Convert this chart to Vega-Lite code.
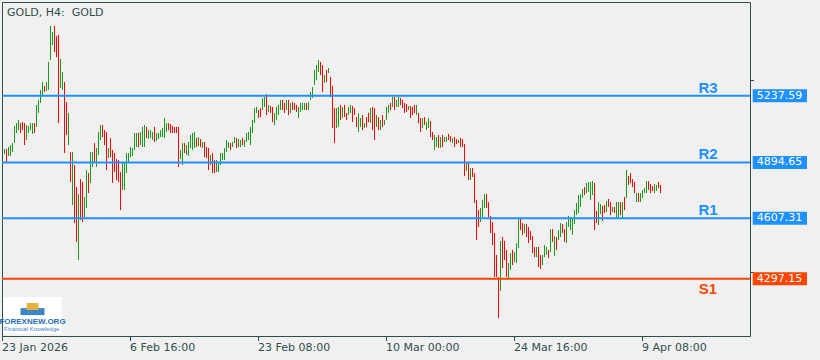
{
"$schema": "https://vega.github.io/schema/vega-lite/v6.json",
"width": 748, "height": 334,
"autosize": {"type": "none"},
"padding": {"left": 2, "top": 2, "right": 70, "bottom": 24},
"background": "#f0f0f0",
"config": {"view": {"stroke": "#2f4f4f", "strokeWidth": 1, "fill": "#f0f0f0"}},
"datasets": {
"bars": [
{"i":1,"h":4964,"l":4938,"d":"u"},{"i":2,"h":4964,"l":4897,"d":"d"},{"i":3,"h":4974,"l":4928,"d":"u"},{"i":4,"h":4984,"l":4928,"d":"u"},{"i":5,"h":4994,"l":4948,"d":"u"},
{"i":6,"h":5082,"l":4994,"d":"u"},{"i":7,"h":5097,"l":5046,"d":"u"},{"i":8,"h":5113,"l":5061,"d":"u"},{"i":9,"h":5097,"l":5046,"d":"d"},{"i":10,"h":5102,"l":5061,"d":"d"},
{"i":11,"h":5097,"l":4984,"d":"d"},{"i":12,"h":5087,"l":5010,"d":"u"},{"i":13,"h":5082,"l":5046,"d":"u"},{"i":14,"h":5097,"l":5061,"d":"u"},{"i":15,"h":5097,"l":5041,"d":"u"},
{"i":16,"h":5097,"l":5046,"d":"d"},{"i":17,"h":5190,"l":5077,"d":"u"},{"i":18,"h":5216,"l":5149,"d":"u"},{"i":19,"h":5267,"l":5200,"d":"u"},{"i":20,"h":5308,"l":5241,"d":"u"},
{"i":21,"h":5287,"l":5257,"d":"d"},{"i":22,"h":5308,"l":5262,"d":"u"},{"i":23,"h":5411,"l":5267,"d":"u"},{"i":24,"h":5596,"l":5421,"d":"u"},{"i":25,"h":5565,"l":5498,"d":"u"},
{"i":26,"h":5596,"l":5462,"d":"d"},{"i":27,"h":5544,"l":5436,"d":"d"},{"i":28,"h":5550,"l":5097,"d":"d"},{"i":29,"h":5426,"l":5277,"d":"u"},{"i":30,"h":5359,"l":5267,"d":"u"},
{"i":31,"h":5308,"l":4943,"d":"d"},{"i":32,"h":5205,"l":5036,"d":"d"},{"i":33,"h":5149,"l":4984,"d":"u"},{"i":34,"h":4948,"l":4794,"d":"d"},{"i":35,"h":4948,"l":4676,"d":"u"},
{"i":36,"h":4881,"l":4583,"d":"d"},{"i":37,"h":4768,"l":4486,"d":"d"},{"i":38,"h":4732,"l":4393,"d":"u"},{"i":39,"h":4809,"l":4599,"d":"d"},{"i":40,"h":4794,"l":4588,"d":"d"},
{"i":41,"h":4717,"l":4609,"d":"u"},{"i":42,"h":4856,"l":4660,"d":"u"},{"i":43,"h":4840,"l":4737,"d":"d"},{"i":44,"h":4948,"l":4789,"d":"u"},{"i":45,"h":4948,"l":4871,"d":"u"},
{"i":46,"h":4994,"l":4897,"d":"d"},{"i":47,"h":4969,"l":4871,"d":"u"},{"i":48,"h":5051,"l":4933,"d":"u"},{"i":49,"h":5087,"l":5010,"d":"u"},{"i":50,"h":5087,"l":5025,"d":"d"},
{"i":51,"h":5061,"l":4984,"d":"d"},{"i":52,"h":5051,"l":4856,"d":"d"},{"i":53,"h":4969,"l":4917,"d":"u"},{"i":54,"h":5020,"l":4922,"d":"d"},{"i":55,"h":4958,"l":4789,"d":"d"},
{"i":56,"h":4943,"l":4845,"d":"d"},{"i":57,"h":4912,"l":4804,"d":"d"},{"i":58,"h":4907,"l":4794,"d":"d"},{"i":59,"h":4845,"l":4650,"d":"d"},{"i":60,"h":4892,"l":4753,"d":"u"},
{"i":61,"h":4897,"l":4753,"d":"u"},{"i":62,"h":4943,"l":4840,"d":"u"},{"i":63,"h":4943,"l":4892,"d":"u"},{"i":64,"h":4974,"l":4922,"d":"u"},{"i":65,"h":4969,"l":4928,"d":"u"},
{"i":66,"h":5046,"l":4958,"d":"u"},{"i":67,"h":5046,"l":4974,"d":"u"},{"i":68,"h":5046,"l":4974,"d":"d"},{"i":69,"h":5051,"l":4984,"d":"u"},{"i":70,"h":5077,"l":4974,"d":"u"},
{"i":71,"h":5087,"l":4974,"d":"u"},{"i":72,"h":5077,"l":5020,"d":"d"},{"i":73,"h":5061,"l":5015,"d":"u"},{"i":74,"h":5061,"l":5020,"d":"u"},{"i":75,"h":5051,"l":5010,"d":"u"},
{"i":76,"h":5077,"l":5000,"d":"d"},{"i":77,"h":5046,"l":5005,"d":"u"},{"i":78,"h":5046,"l":5015,"d":"u"},{"i":79,"h":5061,"l":5025,"d":"u"},{"i":80,"h":5072,"l":5025,"d":"u"},
{"i":81,"h":5123,"l":5020,"d":"u"},{"i":82,"h":5097,"l":5051,"d":"u"},{"i":83,"h":5097,"l":5061,"d":"d"},{"i":84,"h":5092,"l":5046,"d":"d"},{"i":85,"h":5082,"l":5046,"d":"d"},
{"i":86,"h":5077,"l":5046,"d":"d"},{"i":87,"h":5077,"l":5046,"d":"d"},{"i":88,"h":5077,"l":4871,"d":"d"},{"i":89,"h":4958,"l":4912,"d":"u"},{"i":90,"h":4994,"l":4881,"d":"u"},
{"i":91,"h":4994,"l":4943,"d":"d"},{"i":92,"h":4984,"l":4933,"d":"u"},{"i":93,"h":5000,"l":4928,"d":"u"},{"i":94,"h":5036,"l":4969,"d":"u"},{"i":95,"h":5046,"l":4958,"d":"u"},
{"i":96,"h":5051,"l":4969,"d":"u"},{"i":97,"h":5020,"l":4974,"d":"d"},{"i":98,"h":5025,"l":4979,"d":"u"},{"i":99,"h":5015,"l":4974,"d":"d"},{"i":100,"h":5000,"l":4969,"d":"u"},
{"i":101,"h":5000,"l":4922,"d":"d"},{"i":102,"h":4974,"l":4917,"d":"d"},{"i":103,"h":4969,"l":4856,"d":"d"},{"i":104,"h":4933,"l":4881,"d":"u"},{"i":105,"h":4943,"l":4840,"d":"d"},
{"i":106,"h":4907,"l":4840,"d":"d"},{"i":107,"h":4907,"l":4845,"d":"u"},{"i":108,"h":4892,"l":4845,"d":"u"},{"i":109,"h":4943,"l":4881,"d":"u"},{"i":110,"h":4943,"l":4907,"d":"u"},
{"i":111,"h":4969,"l":4907,"d":"u"},{"i":112,"h":5010,"l":4948,"d":"u"},{"i":113,"h":5000,"l":4969,"d":"u"},{"i":114,"h":4994,"l":4958,"d":"d"},{"i":115,"h":5000,"l":4974,"d":"u"},
{"i":116,"h":5025,"l":4994,"d":"u"},{"i":117,"h":5020,"l":4969,"d":"d"},{"i":118,"h":5015,"l":4974,"d":"u"},{"i":119,"h":5010,"l":4974,"d":"u"},{"i":120,"h":5020,"l":4984,"d":"d"},
{"i":121,"h":5010,"l":4974,"d":"u"},{"i":122,"h":5046,"l":5000,"d":"u"},{"i":123,"h":5051,"l":5010,"d":"u"},{"i":124,"h":5077,"l":4984,"d":"u"},{"i":125,"h":5113,"l":5046,"d":"u"},
{"i":126,"h":5174,"l":5097,"d":"u"},{"i":127,"h":5180,"l":5149,"d":"u"},{"i":128,"h":5164,"l":5123,"d":"d"},{"i":129,"h":5174,"l":5128,"d":"d"},{"i":130,"h":5226,"l":5164,"d":"u"},
{"i":131,"h":5231,"l":5180,"d":"u"},{"i":132,"h":5246,"l":5138,"d":"d"},{"i":133,"h":5190,"l":5154,"d":"u"},{"i":134,"h":5185,"l":5149,"d":"d"},{"i":135,"h":5180,"l":5102,"d":"d"},
{"i":136,"h":5149,"l":5087,"d":"u"},{"i":137,"h":5180,"l":5113,"d":"u"},{"i":138,"h":5190,"l":5138,"d":"u"},{"i":139,"h":5216,"l":5164,"d":"u"},{"i":140,"h":5216,"l":5164,"d":"d"},
{"i":141,"h":5200,"l":5149,"d":"d"},{"i":142,"h":5216,"l":5164,"d":"u"},{"i":143,"h":5216,"l":5138,"d":"d"},{"i":144,"h":5200,"l":5149,"d":"u"},{"i":145,"h":5205,"l":5164,"d":"d"},
{"i":146,"h":5200,"l":5164,"d":"d"},{"i":147,"h":5190,"l":5154,"d":"d"},{"i":148,"h":5180,"l":5123,"d":"u"},{"i":149,"h":5200,"l":5154,"d":"u"},{"i":150,"h":5200,"l":5164,"d":"u"},
{"i":151,"h":5200,"l":5164,"d":"u"},{"i":152,"h":5200,"l":5164,"d":"d"},{"i":153,"h":5205,"l":5164,"d":"u"},{"i":154,"h":5257,"l":5216,"d":"u"},{"i":155,"h":5282,"l":5226,"d":"u"},
{"i":156,"h":5370,"l":5293,"d":"u"},{"i":157,"h":5395,"l":5318,"d":"u"},{"i":158,"h":5421,"l":5359,"d":"u"},{"i":159,"h":5411,"l":5344,"d":"d"},{"i":160,"h":5395,"l":5257,"d":"d"},
{"i":161,"h":5344,"l":5303,"d":"u"},{"i":162,"h":5370,"l":5308,"d":"d"},{"i":163,"h":5380,"l":5354,"d":"u"},{"i":164,"h":5334,"l":5231,"d":"d"},{"i":165,"h":5287,"l":5072,"d":"d"},
{"i":166,"h":5174,"l":4994,"d":"d"},{"i":167,"h":5174,"l":5072,"d":"u"},{"i":168,"h":5180,"l":5077,"d":"u"},{"i":169,"h":5190,"l":5113,"d":"d"},{"i":170,"h":5180,"l":5123,"d":"u"},
{"i":171,"h":5190,"l":5128,"d":"d"},{"i":172,"h":5149,"l":5113,"d":"d"},{"i":173,"h":5180,"l":5138,"d":"u"},{"i":174,"h":5190,"l":5149,"d":"u"},{"i":175,"h":5185,"l":5102,"d":"d"},
{"i":176,"h":5174,"l":5138,"d":"d"},{"i":177,"h":5128,"l":5077,"d":"d"},{"i":178,"h":5149,"l":5051,"d":"u"},{"i":179,"h":5123,"l":5077,"d":"u"},{"i":180,"h":5138,"l":5061,"d":"d"},
{"i":181,"h":5097,"l":5072,"d":"u"},{"i":182,"h":5128,"l":5077,"d":"d"},{"i":183,"h":5149,"l":5102,"d":"d"},{"i":184,"h":5174,"l":5097,"d":"u"},{"i":185,"h":5180,"l":5061,"d":"d"},
{"i":186,"h":5174,"l":5010,"d":"d"},{"i":187,"h":5138,"l":5077,"d":"u"},{"i":188,"h":5128,"l":5061,"d":"d"},{"i":189,"h":5113,"l":5061,"d":"u"},{"i":190,"h":5138,"l":5077,"d":"d"},
{"i":191,"h":5113,"l":5087,"d":"u"},{"i":192,"h":5180,"l":5113,"d":"u"},{"i":193,"h":5190,"l":5149,"d":"u"},{"i":194,"h":5200,"l":5164,"d":"d"},{"i":195,"h":5231,"l":5180,"d":"u"},
{"i":196,"h":5231,"l":5164,"d":"d"},{"i":197,"h":5216,"l":5180,"d":"u"},{"i":198,"h":5231,"l":5180,"d":"u"},{"i":199,"h":5226,"l":5190,"d":"d"},{"i":200,"h":5216,"l":5174,"d":"d"},
{"i":201,"h":5200,"l":5149,"d":"d"},{"i":202,"h":5195,"l":5154,"d":"d"},{"i":203,"h":5185,"l":5164,"d":"u"},{"i":204,"h":5185,"l":5123,"d":"d"},{"i":205,"h":5180,"l":5138,"d":"d"},
{"i":206,"h":5190,"l":5149,"d":"d"},{"i":207,"h":5190,"l":5138,"d":"u"},{"i":208,"h":5149,"l":5097,"d":"d"},{"i":209,"h":5123,"l":5051,"d":"d"},{"i":210,"h":5123,"l":5072,"d":"u"},
{"i":211,"h":5128,"l":5087,"d":"d"},{"i":212,"h":5102,"l":5061,"d":"u"},{"i":213,"h":5123,"l":5072,"d":"u"},{"i":214,"h":5108,"l":5025,"d":"d"},{"i":215,"h":5051,"l":5010,"d":"d"},
{"i":216,"h":5036,"l":4958,"d":"u"},{"i":217,"h":5025,"l":4974,"d":"u"},{"i":218,"h":5036,"l":4969,"d":"d"},{"i":219,"h":5025,"l":4969,"d":"u"},{"i":220,"h":5036,"l":4974,"d":"d"},
{"i":221,"h":5025,"l":5000,"d":"u"},{"i":222,"h":5025,"l":5000,"d":"u"},{"i":223,"h":5041,"l":5010,"d":"d"},{"i":224,"h":5030,"l":5000,"d":"d"},{"i":225,"h":5020,"l":4994,"d":"u"},
{"i":226,"h":5025,"l":4974,"d":"d"},{"i":227,"h":5015,"l":4989,"d":"d"},{"i":228,"h":5010,"l":4994,"d":"u"},{"i":229,"h":5020,"l":4974,"d":"d"},{"i":230,"h":5015,"l":4974,"d":"d"},
{"i":231,"h":4989,"l":4825,"d":"d"},{"i":232,"h":4892,"l":4851,"d":"u"},{"i":233,"h":4892,"l":4804,"d":"d"},{"i":234,"h":4866,"l":4804,"d":"u"},{"i":235,"h":4866,"l":4820,"d":"d"},
{"i":236,"h":4840,"l":4686,"d":"d"},{"i":237,"h":4702,"l":4496,"d":"d"},{"i":238,"h":4650,"l":4563,"d":"d"},{"i":239,"h":4660,"l":4588,"d":"u"},{"i":240,"h":4702,"l":4614,"d":"u"},
{"i":241,"h":4732,"l":4660,"d":"u"},{"i":242,"h":4732,"l":4660,"d":"d"},{"i":243,"h":4691,"l":4614,"d":"d"},{"i":244,"h":4619,"l":4532,"d":"d"},{"i":245,"h":4588,"l":4470,"d":"d"},
{"i":246,"h":4532,"l":4306,"d":"d"},{"i":247,"h":4419,"l":4306,"d":"d"},{"i":248,"h":4306,"l":4095,"d":"d"},{"i":249,"h":4491,"l":4234,"d":"u"},{"i":250,"h":4511,"l":4352,"d":"d"},
{"i":251,"h":4491,"l":4393,"d":"d"},{"i":252,"h":4445,"l":4306,"d":"d"},{"i":253,"h":4378,"l":4301,"d":"u"},{"i":254,"h":4429,"l":4342,"d":"u"},{"i":255,"h":4445,"l":4367,"d":"d"},
{"i":256,"h":4434,"l":4383,"d":"u"},{"i":257,"h":4480,"l":4378,"d":"u"},{"i":258,"h":4604,"l":4455,"d":"u"},{"i":259,"h":4604,"l":4547,"d":"d"},{"i":260,"h":4583,"l":4522,"d":"d"},
{"i":261,"h":4578,"l":4532,"d":"u"},{"i":262,"h":4578,"l":4511,"d":"d"},{"i":263,"h":4563,"l":4480,"d":"d"},{"i":264,"h":4542,"l":4496,"d":"d"},{"i":265,"h":4516,"l":4429,"d":"d"},
{"i":266,"h":4460,"l":4408,"d":"d"},{"i":267,"h":4460,"l":4408,"d":"u"},{"i":268,"h":4460,"l":4357,"d":"d"},{"i":269,"h":4419,"l":4347,"d":"d"},{"i":270,"h":4419,"l":4367,"d":"u"},
{"i":271,"h":4470,"l":4408,"d":"u"},{"i":272,"h":4460,"l":4419,"d":"u"},{"i":273,"h":4445,"l":4403,"d":"d"},{"i":274,"h":4552,"l":4434,"d":"u"},{"i":275,"h":4552,"l":4486,"d":"d"},
{"i":276,"h":4516,"l":4414,"d":"u"},{"i":277,"h":4511,"l":4445,"d":"d"},{"i":278,"h":4547,"l":4496,"d":"u"},{"i":279,"h":4583,"l":4511,"d":"u"},{"i":280,"h":4578,"l":4532,"d":"d"},
{"i":281,"h":4552,"l":4486,"d":"d"},{"i":282,"h":4588,"l":4480,"d":"u"},{"i":283,"h":4619,"l":4563,"d":"u"},{"i":284,"h":4614,"l":4547,"d":"u"},{"i":285,"h":4609,"l":4522,"d":"u"},
{"i":286,"h":4650,"l":4578,"d":"u"},{"i":287,"h":4686,"l":4624,"d":"u"},{"i":288,"h":4727,"l":4635,"d":"u"},{"i":289,"h":4732,"l":4666,"d":"u"},{"i":290,"h":4758,"l":4712,"d":"u"},
{"i":291,"h":4768,"l":4727,"d":"d"},{"i":292,"h":4789,"l":4737,"d":"u"},{"i":293,"h":4794,"l":4743,"d":"u"},{"i":294,"h":4794,"l":4702,"d":"u"},{"i":295,"h":4799,"l":4727,"d":"u"},
{"i":296,"h":4789,"l":4547,"d":"d"},{"i":297,"h":4645,"l":4583,"d":"d"},{"i":298,"h":4691,"l":4573,"d":"u"},{"i":299,"h":4681,"l":4629,"d":"u"},{"i":300,"h":4671,"l":4594,"d":"d"},
{"i":301,"h":4676,"l":4635,"d":"d"},{"i":302,"h":4696,"l":4640,"d":"u"},{"i":303,"h":4707,"l":4666,"d":"d"},{"i":304,"h":4691,"l":4624,"d":"d"},{"i":305,"h":4666,"l":4640,"d":"u"},
{"i":306,"h":4666,"l":4635,"d":"d"},{"i":307,"h":4691,"l":4609,"d":"u"},{"i":308,"h":4691,"l":4614,"d":"u"},{"i":309,"h":4691,"l":4624,"d":"d"},{"i":310,"h":4691,"l":4609,"d":"u"},
{"i":311,"h":4717,"l":4650,"d":"d"},{"i":312,"h":4856,"l":4712,"d":"u"},{"i":313,"h":4825,"l":4779,"d":"d"},{"i":314,"h":4840,"l":4789,"d":"d"},{"i":315,"h":4809,"l":4768,"d":"d"},
{"i":316,"h":4794,"l":4737,"d":"d"},{"i":317,"h":4737,"l":4691,"d":"u"},{"i":318,"h":4737,"l":4691,"d":"d"},{"i":319,"h":4737,"l":4691,"d":"u"},{"i":320,"h":4753,"l":4712,"d":"u"},
{"i":321,"h":4763,"l":4737,"d":"u"},{"i":322,"h":4799,"l":4737,"d":"u"},{"i":323,"h":4799,"l":4753,"d":"d"},{"i":324,"h":4784,"l":4737,"d":"d"},{"i":325,"h":4773,"l":4748,"d":"d"},
{"i":326,"h":4784,"l":4737,"d":"u"},{"i":327,"h":4779,"l":4748,"d":"u"},{"i":328,"h":4794,"l":4763,"d":"d"},{"i":329,"h":4779,"l":4737,"d":"d"}
],
"levels": [
{"name": "R3", "price": 5237.59},
{"name": "R2", "price": 4894.65},
{"name": "R1", "price": 4607.31},
{"name": "S1", "price": 4297.15}
],
"times": [
{"i": 0, "t": "23 Jan 2026"},
{"i": 64, "t": "6 Feb 16:00"},
{"i": 128, "t": "23 Feb 08:00"},
{"i": 192, "t": "10 Mar 00:00"},
{"i": 256, "t": "24 Mar 16:00"},
{"i": 320, "t": "9 Apr 08:00"}
],
"pticks": [{"p": 5315.7}, {"p": 4328.8}]
},
"layer": [
{
"data": {"name": "bars"},
"mark": {"type": "rule", "strokeWidth": 1},
"encoding": {
"x": {"field": "i", "type": "quantitative", "title": null,
 "scale": {"domain": [-0.25, 373.75], "nice": false, "zero": false},
 "axis": {"title": null, "orient": "bottom",
  "values": [0,16,32,48,64,80,96,112,128,144,160,176,192,208,224,240,256,272,288,304,320,336,352,368],
  "grid": true, "gridColor": "#d9d9d9", "gridDash": [3,3], "gridWidth": 1,
  "domain": false, "ticks": false, "labels": false}},
"y": {"field": "l", "type": "quantitative", "title": null,
 "scale": {"domain": [4002.6, 5719.2], "nice": false, "zero": false},
 "axis": {"title": null, "orient": "right",
  "values": [5644.7, 5480.2, 5315.7, 5151.2, 4986.7, 4822.3, 4657.8, 4493.3, 4328.8, 4164.3],
  "grid": true, "gridColor": "#d9d9d9", "gridDash": [3,3], "gridWidth": 1,
  "domain": false, "labels": false, "ticks": false}},
"y2": {"field": "h"},
"color": {"field": "d", "type": "nominal", "scale": {"domain": ["u", "d"], "range": ["#1a9a1a", "#ff0000"]}, "legend": null}
}
},
{
"data": {"name": "times"},
"mark": {"type": "rule", "color": "#2f4f4f", "strokeWidth": 1, "clip": false},
"encoding": {
"x": {"field": "i", "type": "quantitative", "axis": null},
"y": {"datum": 4002.6, "type": "quantitative", "axis": null},
"y2": {"datum": 3976.9}
}
},
{
"data": {"name": "times"},
"mark": {"type": "text", "font": "DejaVu Sans", "fontSize": 11, "align": "left", "baseline": "top", "color": "#2f4f4f", "clip": false, "dx": -0.5},
"encoding": {
"x": {"field": "i", "type": "quantitative", "axis": null},
"y": {"datum": 3973, "type": "quantitative", "axis": null},
"text": {"field": "t"}
}
},
{
"data": {"name": "pticks"},
"mark": {"type": "rule", "color": "#2f4f4f", "strokeWidth": 1, "clip": false},
"encoding": {
"x": {"datum": 373.75, "type": "quantitative", "axis": null},
"x2": {"datum": 375.75},
"y": {"field": "p", "type": "quantitative", "axis": null}
}
},
{
"data": {"name": "levels"},
"mark": {"type": "rule", "strokeWidth": 2},
"encoding": {
"y": {"field": "price", "type": "quantitative", "title": null, "axis": null},
"color": {"condition": {"test": "datum.name === 'S1'", "value": "#ff4500"}, "value": "#1e90ff"}
}
},
{
"data": {"name": "levels"},
"transform": [{"filter": "datum.name !== 'S1'"}],
"mark": {"type": "text", "font": "Liberation Sans", "fontWeight": "bold", "fontSize": 15, "align": "center", "baseline": "alphabetic", "dy": -3, "color": "#1e90ff"},
"encoding": {
"x": {"datum": 352.75, "type": "quantitative", "axis": null},
"y": {"field": "price", "type": "quantitative", "axis": null},
"text": {"field": "name"}
}
},
{
"data": {"name": "levels"},
"transform": [{"filter": "datum.name === 'S1'"}],
"mark": {"type": "text", "font": "Liberation Sans", "fontWeight": "bold", "fontSize": 15, "align": "center", "baseline": "alphabetic", "dy": 15, "color": "#ff4500"},
"encoding": {
"x": {"datum": 352.75, "type": "quantitative", "axis": null},
"y": {"field": "price", "type": "quantitative", "axis": null},
"text": {"field": "name"}
}
},
{
"data": {"name": "levels"},
"mark": {"type": "rect", "yOffset": -6.5, "y2Offset": 6.5, "clip": false},
"encoding": {
"x": {"datum": 375.1, "type": "quantitative", "axis": null},
"x2": {"datum": 402.25},
"y": {"field": "price", "type": "quantitative", "axis": null},
"y2": {"field": "price"},
"color": {"condition": {"test": "datum.name === 'S1'", "value": "#ff4500"}, "value": "#1e90ff"}
}
},
{
"data": {"name": "levels"},
"mark": {"type": "text", "font": "DejaVu Sans", "fontSize": 11, "align": "left", "baseline": "middle", "color": "#ffffff", "clip": false},
"encoding": {
"x": {"datum": 377.1, "type": "quantitative", "axis": null},
"y": {"field": "price", "type": "quantitative", "axis": null},
"text": {"field": "price", "type": "quantitative", "format": ".2f"}
}
},
{
"data": {"values": [{"t": "GOLD, H4:\u00a0 GOLD"}]},
"mark": {"type": "text", "font": "DejaVu Sans", "fontSize": 11, "align": "left", "baseline": "alphabetic", "color": "#2f4f4f"},
"encoding": {
"x": {"datum": 2.25, "type": "quantitative", "axis": null},
"y": {"datum": 5647, "type": "quantitative", "axis": null},
"text": {"field": "t"}
}
},
{
"data": {"values": [{"t": "logo"}]},
"mark": {"type": "rect", "color": "#ffffff"},
"encoding": {
"x": {"datum": 0.4, "type": "quantitative", "axis": null},
"x2": {"datum": 29.6},
"y": {"datum": 4203, "type": "quantitative", "axis": null},
"y2": {"datum": 4016}
}
},
{
"data": {"values": [{"t": "book"}]},
"mark": {"type": "rect", "color": "#3a86c8"},
"encoding": {
"x": {"datum": 9, "type": "quantitative", "axis": null},
"x2": {"datum": 21},
"y": {"datum": 4146, "type": "quantitative", "axis": null},
"y2": {"datum": 4110}
}
},
{
"data": {"values": [{"t": "temple"}]},
"mark": {"type": "rect", "color": "#e3b23c"},
"encoding": {
"x": {"datum": 12, "type": "quantitative", "axis": null},
"x2": {"datum": 18},
"y": {"datum": 4172, "type": "quantitative", "axis": null},
"y2": {"datum": 4136}
}
},
{
"data": {"values": [{"t": "FOREXNEW.ORG"}]},
"mark": {"type": "text", "font": "Liberation Sans", "fontWeight": "bold", "fontSize": 8, "align": "center", "baseline": "alphabetic", "color": "#1f6fb4"},
"encoding": {
"x": {"datum": 15, "type": "quantitative", "axis": null},
"y": {"datum": 4064, "type": "quantitative", "axis": null},
"text": {"field": "t"}
}
},
{
"data": {"values": [{"t": "Financial Knowledge."}]},
"mark": {"type": "text", "font": "Liberation Sans", "fontSize": 6, "align": "center", "baseline": "alphabetic", "color": "#3a86c8"},
"encoding": {
"x": {"datum": 15, "type": "quantitative", "axis": null},
"y": {"datum": 4027, "type": "quantitative", "axis": null},
"text": {"field": "t"}
}
}
]
}
